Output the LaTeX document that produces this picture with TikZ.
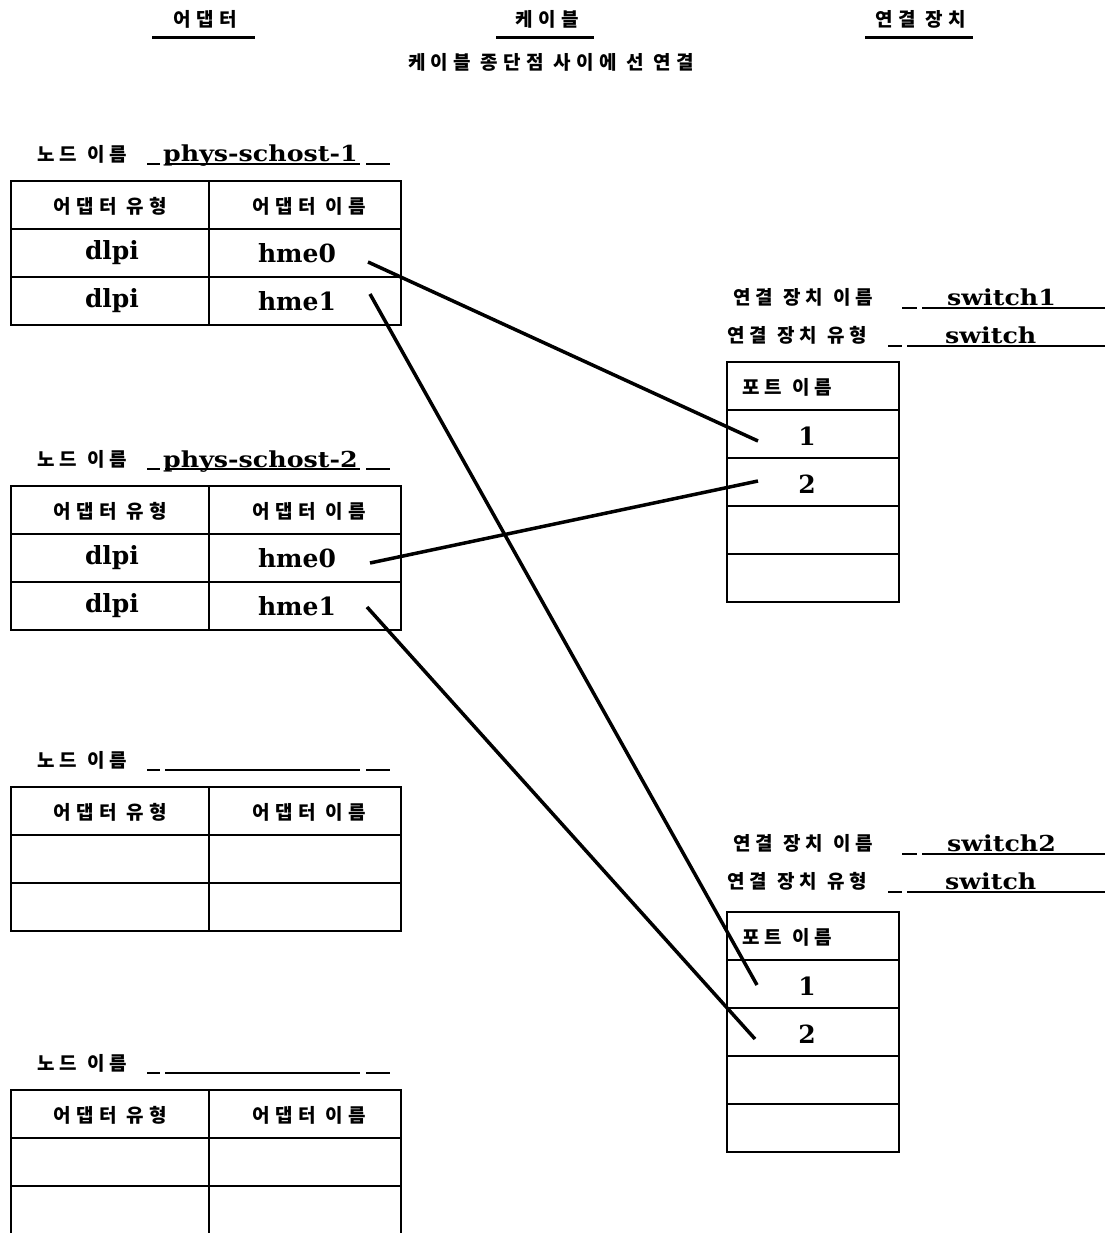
\documentclass[tikz,border=0pt]{standalone}
\usepackage{fontspec}
\setmainfont{DejaVu Serif}
\newfontfamily\kr{Noto Sans CJK KR}[LetterSpace=28]
\newfontfamily\lblfont{DejaVu Serif}[FakeStretch=1.15]
\begin{document}
\begin{tikzpicture}[x=1pt,y=-1pt,
  gridline/.style={line width=2pt},
  hdrline/.style={line width=3pt},
  uline/.style={line width=2pt},
  cable/.style={line width=3.5pt},
  krtxt/.style={font=\kr\bfseries\fontsize{19}{21}\selectfont, inner sep=0pt},
  krhdr/.style={font=\kr\bfseries\fontsize{19}{21}\selectfont, inner sep=0pt},
  lblbold/.style={font=\lblfont\bfseries\fontsize{22}{24}\selectfont, inner sep=0pt, anchor=base west},
  cellbold/.style={font=\bfseries\fontsize{25}{27}\selectfont, inner sep=0pt},
]
\useasboundingbox (0,0) rectangle (1105,1233);
\clip (0,0) rectangle (1105,1233);

% ---------- column headers ----------
\node[krhdr] (hAd) at (205,19) {어댑터};
\draw[hdrline] (152,38) -- (255,38);
\node[krhdr] (hCa) at (547,19) {케이블};
\draw[hdrline] (496,38) -- (594,38);
\node[krhdr] (hCo) at (921,19) {연결 장치};
\draw[hdrline] (865,38) -- (973,38);
\node[krhdr] (hSub) at (551,62) {케이블 종단점 사이에 선 연결};

% ---------- node tables ----------
\foreach \tn/\tp/\lab/\ta/\na/\tb/\nb in {
  1/181/phys-schost-1/dlpi/hme0/dlpi/hme1,
  2/486/phys-schost-2/dlpi/hme0/dlpi/hme1,
  3/787/{}/{}/{}/{}/{},
  4/1090/{}/{}/{}/{}/{}}{
  \node[krtxt, anchor=west] (nl\tn) at (37,\tp-27) {노드 이름};
  \draw[uline] (147,\tp-17) -- (160,\tp-17);
  \draw[uline] (165,\tp-17) -- (360,\tp-17);
  \draw[uline] (366,\tp-17) -- (390,\tp-17);
  \node[lblbold] (nv\tn) at (163,\tp-19) {\lab};
  \draw[gridline] (11,\tp) rectangle (401,\tp+144);
  \draw[gridline] (11,\tp+48) -- (401,\tp+48);
  \draw[gridline] (11,\tp+96) -- (401,\tp+96);
  \draw[gridline] (209,\tp) -- (209,\tp+144);
  \node[krtxt] (th\tn) at (110,\tp+25) {어댑터 유형};
  \node[krtxt] (nh\tn) at (309,\tp+25) {어댑터 이름};
  \node[cellbold] (ta\tn) at (112,\tp+72) {\ta};
  \node[cellbold] (na\tn) at (297,\tp+72) {\na};
  \node[cellbold] (tb\tn) at (112,\tp+120) {\tb};
  \node[cellbold] (nb\tn) at (297,\tp+120) {\nb};
}

% ---------- switch tables ----------
\foreach \sn/\ly/\tp in {1/297/362, 2/843/912}{
  \node[krtxt, anchor=west] (sl\sn) at (733,\ly) {연결 장치 이름};
  \draw[uline] (902,\ly+11) -- (917,\ly+11);
  \draw[uline] (922,\ly+11) -- (1105,\ly+11);
  \node[lblbold] (sv\sn) at (947,\ly+8) {switch\sn};
  \node[krtxt, anchor=west] (st\sn) at (727,\ly+38) {연결 장치 유형};
  \draw[uline] (888,\ly+49) -- (902,\ly+49);
  \draw[uline] (907,\ly+49) -- (1105,\ly+49);
  \node[lblbold] (sw\sn) at (945,\ly+46) {switch};
  \draw[gridline] (727,\tp) rectangle (899,\tp+240);
  \foreach \k in {1,2,3,4}{
    \draw[gridline] (727,\tp+48*\k) -- (899,\tp+48*\k);
  }
  \node[krtxt, anchor=west] (ph\sn) at (742,\tp+25) {포트 이름};
  \node[cellbold] (p\sn a) at (807,\tp+74) {1};
  \node[cellbold] (p\sn b) at (807,\tp+122) {2};
}

% ---------- cable end points ----------
\coordinate (e1a) at (368,262);
\coordinate (e1b) at (370,294);
\coordinate (e2a) at (370,563);
\coordinate (e2b) at (367,607);
\coordinate (s1a) at (758,441);
\coordinate (s1b) at (758,481);
\coordinate (s2a) at (757,985);
\coordinate (s2b) at (755,1039);

% ---------- cables ----------
\draw[cable] (e1a) -- (s1a);
\draw[cable] (e1b) -- (s2a);
\draw[cable] (e2a) -- (s1b);
\draw[cable] (e2b) -- (s2b);
\end{tikzpicture}
\end{document}
